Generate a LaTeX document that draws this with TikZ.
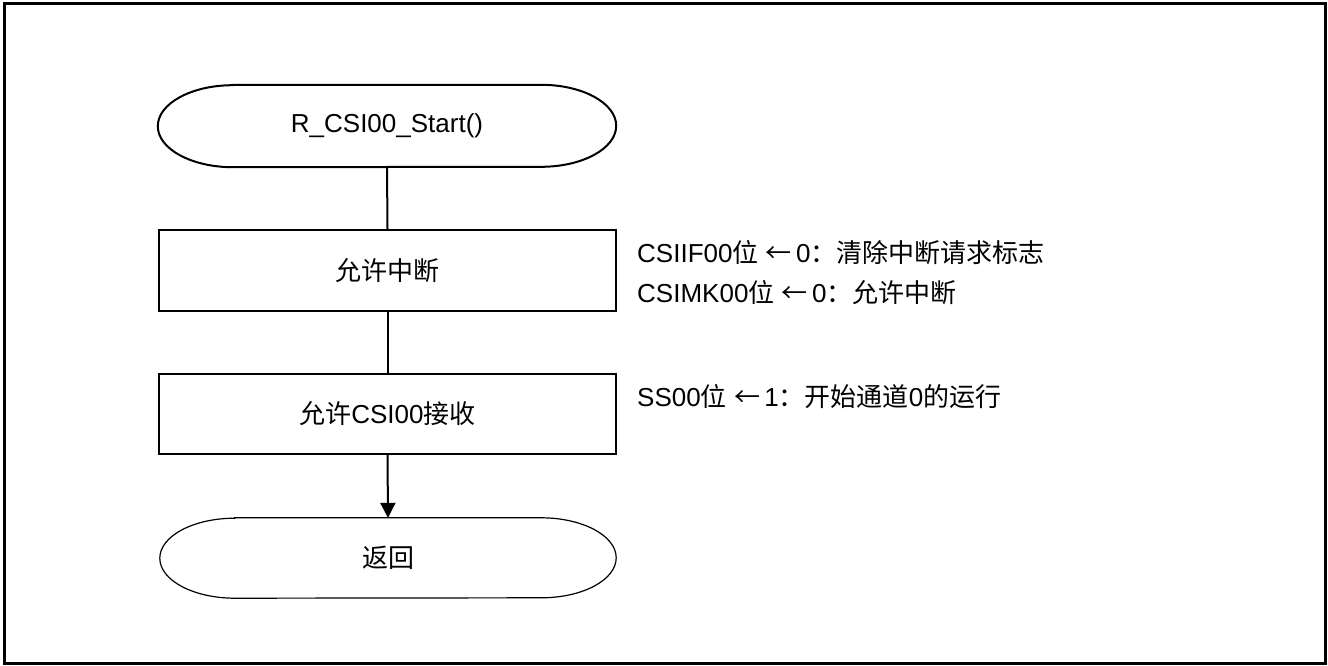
\documentclass[tikz,border=0pt]{standalone}
\usepackage{fontspec}
\setmainfont{Liberation Sans}
\newfontfamily\cjk{Noto Sans CJK SC}
\usetikzlibrary{arrows.meta}
\newcommand\zh[1]{{\cjk #1}}
\tikzset{
  procbox/.style={draw, line width=2pt, minimum width=457pt, minimum height=81pt, inner sep=0pt, font=\fontsize{26}{30}\selectfont},
  termnode/.style={inner sep=0pt, minimum width=458pt, minimum height=82pt, font=\fontsize{26}{30}\selectfont},
  conn/.style={line width=2pt},
  note/.style={font=\fontsize{26}{30}\selectfont, inner sep=0pt, anchor=base west}
}
\begin{document}
\begin{tikzpicture}[x=1pt,y=-1pt]
\useasboundingbox (0,0) rectangle (1328,666);
\draw[line width=3pt] (4,4) rectangle (1325,663);
% terminals
\node[termnode] (start) at (387,126) {R\_CSI00\_Start()};
\draw[line width=2pt] ([xshift=75pt]start.north west) -- ([xshift=-75pt]start.north east)
  arc[start angle=90,end angle=-90,x radius=75pt,y radius=41pt]
  -- ([xshift=75pt]start.south west)
  arc[start angle=270,end angle=90,x radius=75pt,y radius=41pt] -- cycle;
\node[procbox] (b1) at (387.5,270.5) {\zh{允许中断}};
\node[procbox, minimum height=80pt] (b2) at (387.5,414) {\zh{允许}CSI00\zh{接收}};
\node[termnode, minimum width=456pt, minimum height=80pt] (end) at (388,558) {\zh{返回}};
\draw[line width=1.2pt] ([xshift=75pt]end.north west) -- ([xshift=-75pt]end.north east)
  arc[start angle=90,end angle=-90,x radius=75pt,y radius=40pt]
  -- ([xshift=75pt]end.south west)
  arc[start angle=270,end angle=90,x radius=75pt,y radius=40pt] -- cycle;
% connectors
\draw[conn] (start.south) -- (b1.north);
\draw[conn] (b1.south) -- (b2.north);
\draw[conn, -{Triangle[width=15pt,length=15pt]}] (b2.south) -- (end.north);
% notes
\node[note] (n1) at (637,262) {CSIIF00\zh{位} \zh{←}\,0\zh{：清除中断请求标志}};
\node[note] (n2) at (637,302) {CSIMK00\zh{位} \zh{←}\,0\zh{：允许中断}};
\node[note] (n3) at (637,406) {SS00\zh{位} \zh{←}\,1\zh{：开始通道}0\zh{的运行}};
\end{tikzpicture}
\end{document}
